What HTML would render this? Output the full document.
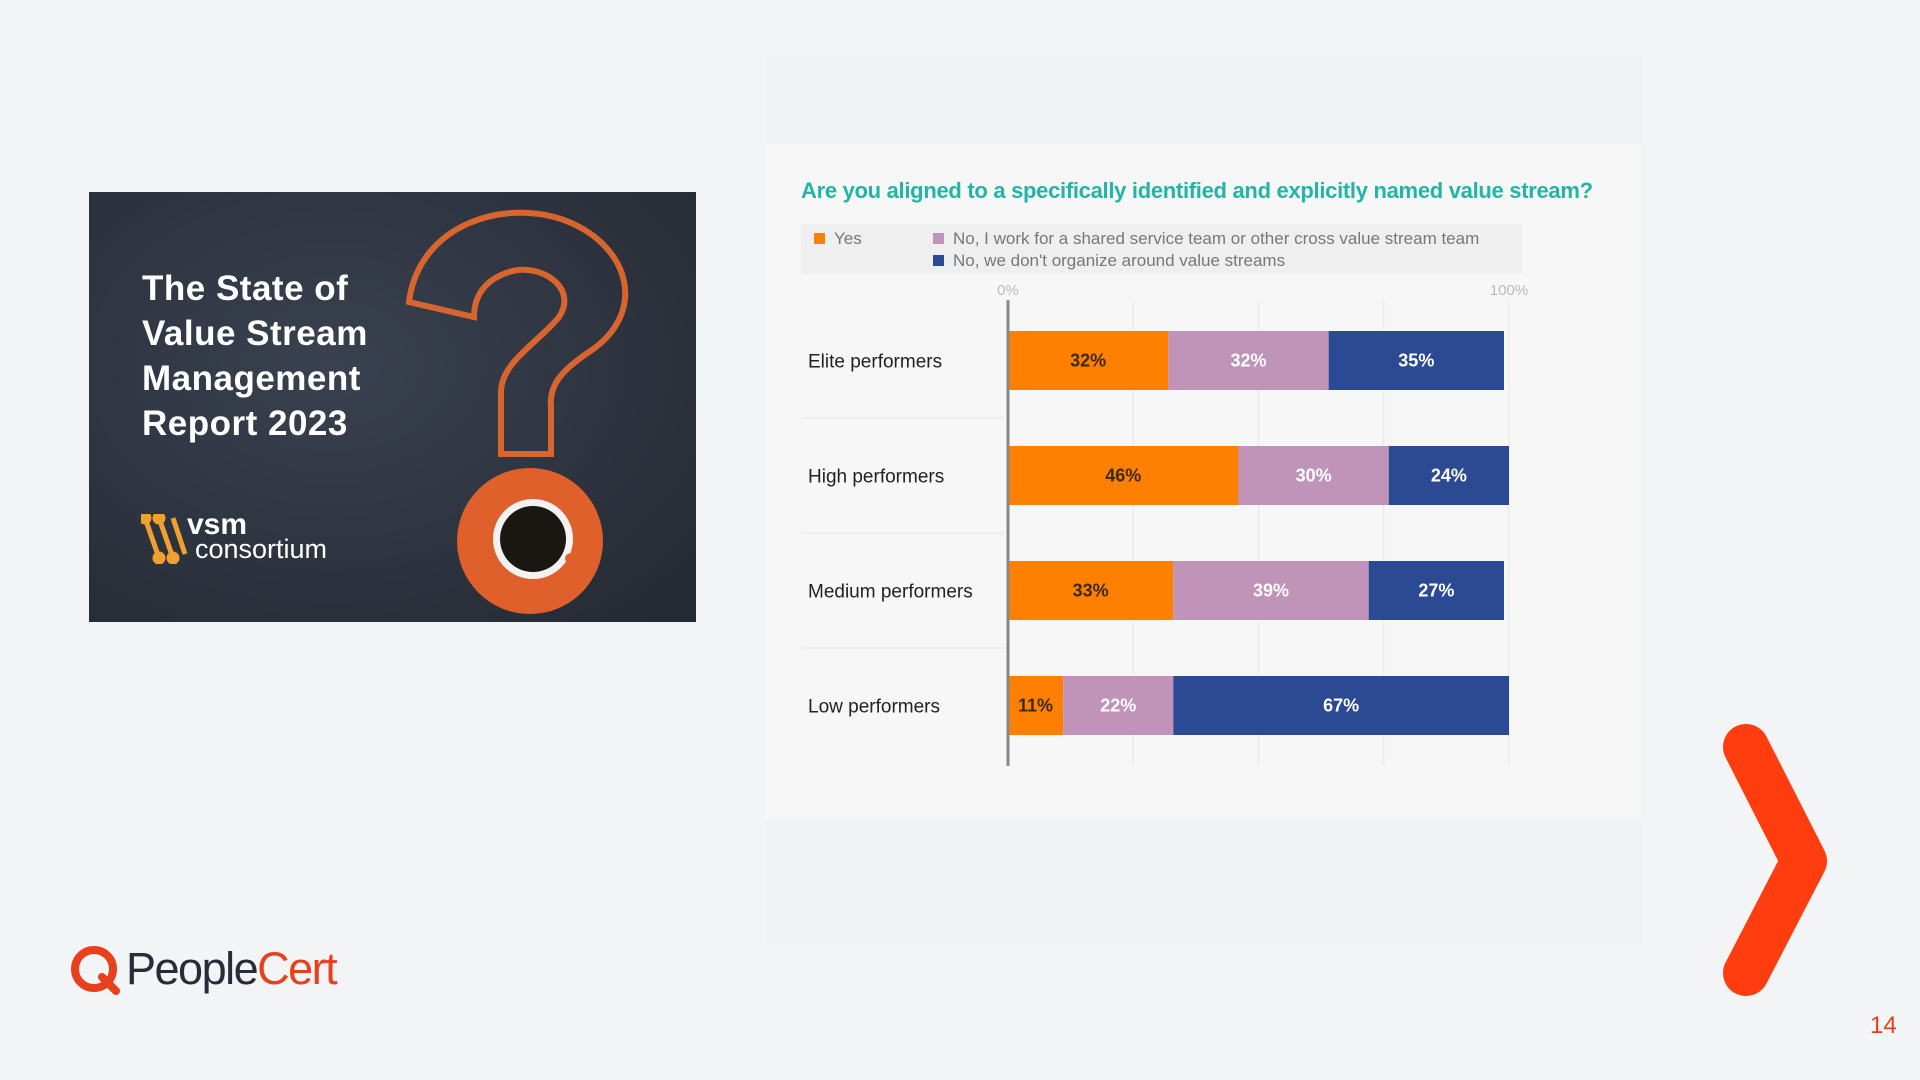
<!DOCTYPE html>
<html><head><meta charset="utf-8"><style>
body{margin:0;width:1920px;height:1080px;background:#f3f4f6;position:relative;overflow:hidden;font-family:"Liberation Sans",sans-serif}
.abs{position:absolute}
</style></head><body>
<div class="abs" style="left:765px;top:55px;width:876px;height:895px;background:#f1f2f3"></div>
<div class="abs" style="left:765px;top:144px;width:876px;height:674px;background:#f7f7f7"></div>

<div class="abs" style="left:89px;top:192px;width:607px;height:430px;background:#2e3440;overflow:hidden">
  <svg width="607" height="430" style="position:absolute;left:0;top:0">
    <defs><radialGradient id="bg" cx="40%" cy="40%" r="80%"><stop offset="0" stop-color="#3a4150"/><stop offset="1" stop-color="#252a33"/></radialGradient></defs>
    <rect width="607" height="430" fill="url(#bg)"/>
    <path d="M320 110 C330 30 420 5 480 30 C540 55 560 120 500 160 C470 180 460 195 462 215 L462 262 L412 262 L412 200 C412 170 450 150 470 125 C490 95 450 70 420 80 C395 88 385 105 385 125 Z" fill="none" stroke="#d9652e" stroke-width="6"/>
    <circle cx="441" cy="349" r="73" fill="#e0602b"/>
    <circle cx="444" cy="347" r="40" fill="#f2f2f2"/>
    <circle cx="444" cy="347" r="33" fill="#1a1612"/>
    <rect x="478" y="360" width="22" height="10" rx="5" fill="#e0602b" transform="rotate(20 478 360)"/>
  </svg>
  <div class="abs" style="left:53px;top:74px;color:#fff;font-weight:bold;font-size:35px;line-height:45px;letter-spacing:0.5px">The State of<br>Value Stream<br>Management<br>Report 2023</div>
  <div class="abs" style="left:52px;top:322px;width:50px;height:50px">
    <svg width="50" height="50"><g stroke="#f0a030" stroke-width="5" fill="#f0a030"><line x1="4" y1="4" x2="18" y2="44"/><line x1="18" y1="4" x2="32" y2="44"/><line x1="32" y1="4" x2="44" y2="40"/><circle cx="4" cy="4" r="4"/><circle cx="18" cy="44" r="4"/><circle cx="32" cy="44" r="4"/><circle cx="18" cy="4" r="4"/></g></svg>
  </div>
  <div class="abs" style="left:98px;top:320px;color:#fff;font-size:30px;font-weight:bold;line-height:26px">vsm</div>
  <div class="abs" style="left:106px;top:344px;color:#fff;font-size:27px;line-height:26px">consortium</div>
</div>

<div class="abs" style="left:801px;top:178px;color:#20b5a6;font-size:22px;font-weight:bold;letter-spacing:-0.3px">Are you aligned to a specifically identified and explicitly named value stream?</div>
<div class="abs" style="left:801px;top:224px;width:721px;height:50px;background:#efefef;color:#777;font-size:17px">
  <div class="abs" style="left:13px;top:5px"><span style="display:inline-block;width:11px;height:11px;background:#ff8000;margin-right:9px"></span>Yes</div>
  <div class="abs" style="left:132px;top:5px"><span style="display:inline-block;width:11px;height:11px;background:#c093b8;margin-right:9px"></span>No, I work for a shared service team or other cross value stream team</div>
  <div class="abs" style="left:132px;top:27px"><span style="display:inline-block;width:11px;height:11px;background:#2b4a93;margin-right:9px"></span>No, we don't organize around value streams</div>
</div>

<svg id="chart" class="abs" style="left:0;top:0" width="1920" height="1080"></svg>

<div class="abs" style="left:70px;top:942px;height:54px;display:flex;align-items:center">
  <svg width="52" height="52"><circle cx="24" cy="26" r="19" fill="none" stroke="#e8401c" stroke-width="8"/><line x1="32" y1="34" x2="46" y2="48" stroke="#e8401c" stroke-width="8" stroke-linecap="round"/></svg>
  <span style="font-size:45px;color:#2a2a3a;letter-spacing:-1.5px;margin-left:4px">People</span><span style="font-size:45px;color:#e8401c;letter-spacing:-1.5px">Cert</span>
</div>
<svg class="abs" style="left:1700px;top:700px" width="160" height="320"><polyline points="46,47 104,161 46,273" fill="none" stroke="#ff3d0f" stroke-width="46" stroke-linecap="round" stroke-linejoin="round"/></svg>
<div class="abs" style="left:1870px;top:1012px;color:#e8401c;font-size:24px">14</div>

<script>
const categories=["Elite performers","High performers","Medium performers","Low performers"];
const yesVals=[32,46,33,11];
const sharedVals=[32,30,39,22];
const notOrgVals=[35,24,27,67];
const axisTicks=["0%","100%"];
const NS="http://www.w3.org/2000/svg";
const svg=document.getElementById('chart');
const x0=1008,x1=1509,rowTop=331,rowStep=115,barH=59;
const xs=v=>x0+(x1-x0)*v/100;
const ys=i=>rowTop+i*rowStep;
function mk(t,a){const e=document.createElementNS(NS,t);for(const k in a)e.setAttribute(k,a[k]);svg.appendChild(e);return e;}
[25,50,75,100].forEach(g=>{const l=mk('line',{x1:xs(g),x2:xs(g),y1:300,y2:765,stroke:'#e6e6e6','stroke-width':1});

});
axisTicks.forEach((t,i)=>{const e=mk('text',{x:xs(i*100),y:295,'text-anchor':'middle',fill:'#bbb','font-size':15,'font-family':'Liberation Sans'});e.textContent=t;

});
const series=[[yesVals,'#ff8000','#3a2a10'],[sharedVals,'#c093b8','#fff'],[notOrgVals,'#2b4a93','#fff']];
categories.forEach((c,i)=>{
  const t=mk('text',{x:808,y:ys(i)+barH/2+7,fill:'#222','font-size':19,'font-family':'Liberation Sans'});t.textContent=c;
  
  
  if(i>0){const s=mk('line',{x1:801,x2:1004,y1:ys(i)-28,y2:ys(i)-28,stroke:'#e4e4e4','stroke-width':1});
  
  }
  let acc=0;
  series.forEach(([arr,col,tc])=>{
    const v=arr[i];
    const r=mk('rect',{x:xs(acc),y:ys(i),width:xs(acc+v)-xs(acc),height:barH,fill:col});
    
    
    const l=mk('text',{x:(xs(acc)+xs(acc+v))/2,y:ys(i)+barH/2+6,'text-anchor':'middle',fill:tc,'font-size':18,'font-weight':'bold','font-family':'Liberation Sans'});
    l.textContent=v+'%';
    
    
    acc+=v;
  });
});
const ax=mk('line',{x1:x0,x2:x0,y1:300,y2:766,stroke:'#888','stroke-width':3});


</script>
</body></html>
